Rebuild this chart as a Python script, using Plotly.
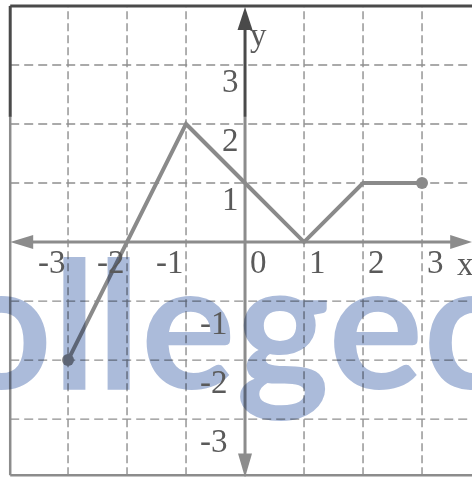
import plotly.graph_objects as go

# ---- data ----
x_vals = [-3, -2, -1, 0, 1, 2, 3]
y_vals = [-2, 0, 2, 1, 0, 1, 1]
end_x = [-3, 3]
end_y = [-2, 1]
x_ticks = [-3, -2, -1, 0, 1, 2, 3]
x_tick_labels = ["-3", "-2", "-1", "0", "1", "2", "3"]
y_ticks = [3, 2, 1, -1, -2, -3]
y_tick_labels = ["3", "2", "1", "-1", "-2", "-3"]
watermark_text = "ollegec"

W, H = 472, 477
XR = [-4.153, 3.847]
YR = [-3.98, 4.10]
u = 1 / 59.0  # one pixel in data units

DARK = "#4a4a4a"
GREY = "#8c8c8c"
GRID = "#8f8f8f"
LINE = "#8a8a8a"
LABEL = "#5a5a5a"

LEFT = -3.98
TOP = 4.0
BOTTOM = -3.95
SPLIT = 2.12

fig = go.Figure()

shapes = []
# dashed grid
for t in x_ticks:
    if t == 0:
        continue
    shapes.append(dict(type="line", x0=t, x1=t, y0=BOTTOM, y1=TOP, layer="below",
                       line=dict(color=GRID, width=1.4, dash="8px,4px")))
for t in y_ticks:
    shapes.append(dict(type="line", x0=LEFT, x1=XR[1], y0=t, y1=t, layer="below",
                       line=dict(color=GRID, width=1.4, dash="9px,5px")))
# borders
shapes.append(dict(type="line", x0=LEFT, x1=XR[1], y0=TOP, y1=TOP, layer="below",
                   line=dict(color=DARK, width=3)))
shapes.append(dict(type="line", x0=LEFT, x1=LEFT, y0=TOP, y1=SPLIT, layer="below",
                   line=dict(color=DARK, width=3)))
shapes.append(dict(type="line", x0=LEFT, x1=LEFT, y0=SPLIT, y1=BOTTOM, layer="below",
                   line=dict(color=GREY, width=2.5)))
shapes.append(dict(type="line", x0=LEFT, x1=XR[1], y0=BOTTOM, y1=BOTTOM, layer="below",
                   line=dict(color=GREY, width=2.5)))
# y axis
shapes.append(dict(type="line", x0=0, x1=0, y0=3.7, y1=SPLIT, layer="below",
                   line=dict(color=DARK, width=3)))
shapes.append(dict(type="line", x0=0, x1=0, y0=SPLIT, y1=-3.7, layer="below",
                   line=dict(color=GREY, width=3)))
# x axis
shapes.append(dict(type="line", x0=-3.7, x1=3.6, y0=0, y1=0, layer="below",
                   line=dict(color=GREY, width=3)))
# arrow heads
def tri(p):
    return "M " + " L ".join(f"{a},{b}" for a, b in p) + " Z"
shapes.append(dict(type="path", path=tri([(0, 3.98), (-7.5*u, 3.98-23*u), (7.5*u, 3.98-23*u)]),
                   fillcolor=DARK, line=dict(width=0), layer="below"))
shapes.append(dict(type="path", path=tri([(0, -3.99), (-7*u, -3.99+24*u), (7*u, -3.99+24*u)]),
                   fillcolor=GREY, line=dict(width=0), layer="below"))
shapes.append(dict(type="path", path=tri([(LEFT, 0), (LEFT+23*u, 7*u), (LEFT+23*u, -7*u)]),
                   fillcolor=GREY, line=dict(width=0), layer="below"))
shapes.append(dict(type="path", path=tri([(3.85, 0), (3.85-22*u, 7*u), (3.85-22*u, -7*u)]),
                   fillcolor=GREY, line=dict(width=0), layer="below"))

fig.add_trace(go.Scatter(x=x_vals, y=y_vals, mode="lines",
                         line=dict(color=LINE, width=4), hoverinfo="skip", showlegend=False))
fig.add_trace(go.Scatter(x=end_x, y=end_y, mode="markers",
                         marker=dict(color=LINE, size=12), hoverinfo="skip", showlegend=False))

ann = []
# watermark (drawn first so the labels sit on top of it)
ann.append(dict(xref="paper", yref="paper", x=229 / W, y=1 - 320 / H, text=watermark_text,
                showarrow=False, xanchor="center", yanchor="middle",
                font=dict(family="Lato", size=178, color="rgba(110,138,192,0.58)", weight=700)))
lab_font = dict(family="Liberation Serif", size=33, color=LABEL)
for t, s in zip(x_ticks, x_tick_labels):
    dx = -0.27 if t < 0 else 0.23
    ann.append(dict(x=t + dx, y=-0.34, text=s, showarrow=False, xanchor="center",
                    yanchor="middle", font=lab_font))
ann.append(dict(x=3.73, y=-0.37, text="x", showarrow=False, xanchor="center",
                yanchor="middle", font=lab_font))
for t, s in zip(y_ticks, y_tick_labels):
    if t > 0:
        ann.append(dict(x=-0.25, y=t - 0.27, text=s, showarrow=False, xanchor="center",
                        yanchor="middle", font=lab_font))
    else:
        ann.append(dict(x=-0.53, y=t - 0.37, text=s, showarrow=False, xanchor="center",
                        yanchor="middle", font=lab_font))
ann.append(dict(x=0.23, y=3.5, text="y", showarrow=False, xanchor="center",
                yanchor="middle", font=lab_font))

fig.update_layout(
    width=W, height=H, margin=dict(l=0, r=0, t=0, b=0),
    paper_bgcolor="white", plot_bgcolor="white",
    xaxis=dict(range=XR, visible=False, fixedrange=True),
    yaxis=dict(range=YR, visible=False, fixedrange=True),
    shapes=shapes, annotations=ann, showlegend=False,
)
post = (
    "document.body.style.margin='0';document.body.style.overflow='hidden';"
    "var a=document.querySelectorAll('.annotation');"
    "if(a.length){a[0].style.mixBlendMode='multiply';}"
)
fig.write_html("out.html", config={"displayModeBar": False, "staticPlot": True},
               post_script=post)
